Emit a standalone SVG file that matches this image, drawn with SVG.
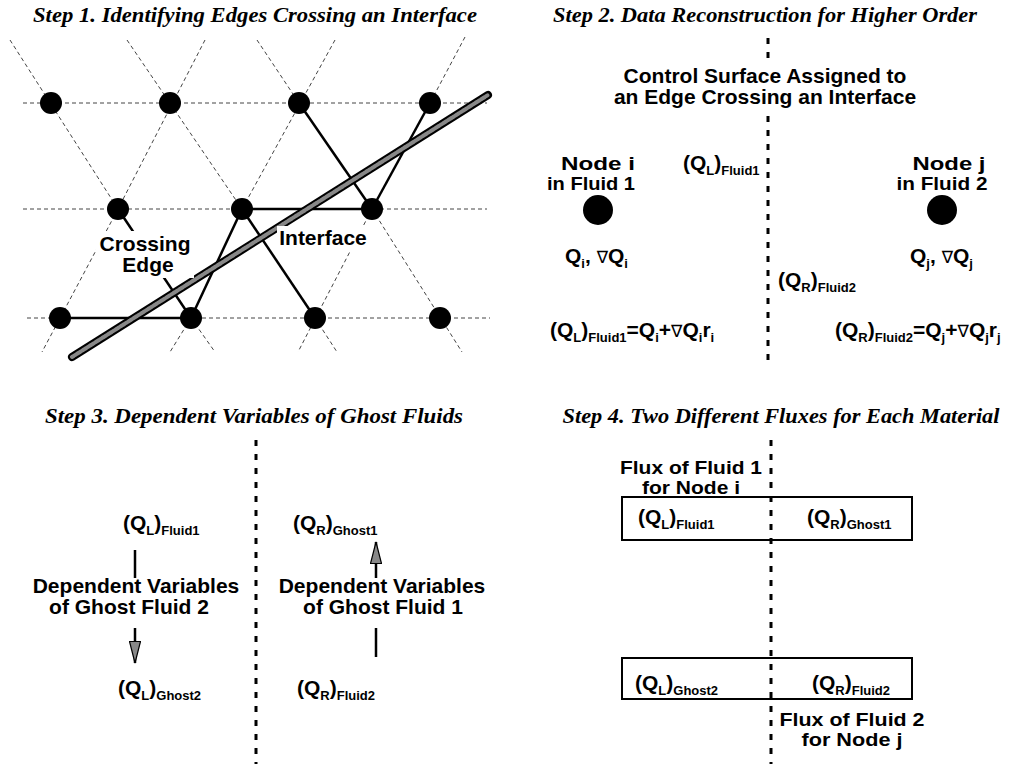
<svg xmlns="http://www.w3.org/2000/svg" width="1024" height="768" viewBox="0 0 1024 768">
<style>
.title{font-family:"Liberation Serif","Times New Roman",serif;font-weight:bold;font-style:italic;font-size:22px;text-anchor:middle;fill:#000}
.lbl{font-family:"Liberation Sans",Arial,sans-serif;font-weight:bold;font-size:21px;text-anchor:middle;fill:#000}
.sm{font-size:19px}
.q{font-family:"Liberation Sans",Arial,sans-serif;font-weight:bold;font-size:21px;fill:#000}
.sub{font-size:13px}
.nab{font-weight:normal;font-family:"DejaVu Sans",sans-serif;font-size:17px}
.grid{stroke:#444;stroke-width:1;stroke-dasharray:4 3;fill:none}
.edge{stroke:#000;stroke-width:2.5;fill:none}
.iface-o{stroke:#000;stroke-width:8;stroke-linecap:round}
.iface-i{stroke:#888;stroke-width:4;stroke-linecap:round;stroke-dasharray:2 1}
.sep{stroke:#000;stroke-width:3;stroke-dasharray:6 8;fill:none}
.node{fill:#000}
.box{fill:none;stroke:#000;stroke-width:2}
.stem{stroke:#000;stroke-width:2.5;fill:none}
.mask{fill:#fff}
</style>
<defs>
<marker id="ah" viewBox="0 0 23 12" refX="22" refY="6" markerWidth="23" markerHeight="12" orient="auto" markerUnits="userSpaceOnUse">
<path d="M0.5,0.5 L22,6 L0.5,11.5 Z" fill="#888" stroke="#000" stroke-width="1.2"/>
</marker>
</defs>
<rect width="1024" height="768" fill="#fff"/>

<!-- Titles -->
<text class="title" x="255" y="22" textLength="444" lengthAdjust="spacingAndGlyphs">Step 1. Identifying Edges Crossing an Interface</text>
<text class="title" x="765" y="22" textLength="424" lengthAdjust="spacingAndGlyphs">Step 2. Data Reconstruction for Higher Order</text>
<text class="title" x="254" y="423" textLength="418" lengthAdjust="spacingAndGlyphs">Step 3. Dependent Variables of Ghost Fluids</text>
<text class="title" x="781" y="423" textLength="437" lengthAdjust="spacingAndGlyphs">Step 4. Two Different Fluxes for Each Material</text>

<!-- Step 1 connectors -->
<g id="step1-connectors">
<line class="grid" x1="23" y1="103" x2="487" y2="103"/>
<line class="grid" x1="23" y1="209" x2="487" y2="209"/>
<line class="grid" x1="27" y1="318" x2="490" y2="318"/>
<line class="grid" x1="10" y1="40" x2="118" y2="209"/>
<line class="grid" x1="127" y1="40" x2="242" y2="209"/>
<line class="grid" x1="205" y1="40" x2="118" y2="209"/>
<line class="grid" x1="257" y1="40" x2="299" y2="103"/>
<line class="grid" x1="335" y1="40" x2="242" y2="209"/>
<line class="grid" x1="465" y1="37" x2="430" y2="103"/>
<line class="grid" x1="118" y1="209" x2="42" y2="352"/>
<line class="grid" x1="372" y1="209" x2="298" y2="352"/>
<line class="grid" x1="372" y1="209" x2="462" y2="352"/>
<line class="grid" x1="191" y1="318" x2="170" y2="352"/>
<line class="grid" x1="191" y1="318" x2="215" y2="352"/>
<line class="grid" x1="315" y1="318" x2="337" y2="352"/>
<line class="edge" x1="60" y1="318" x2="191" y2="318"/>
<line class="edge" x1="118" y1="209" x2="191" y2="318"/>
<line class="edge" x1="242" y1="209" x2="191" y2="318"/>
<line class="edge" x1="242" y1="209" x2="315" y2="318"/>
<line class="edge" x1="242" y1="209" x2="372" y2="209"/>
<line class="edge" x1="299" y1="103" x2="372" y2="209"/>
<line class="edge" x1="430" y1="103" x2="372" y2="209"/>
</g>
<g id="interface">
<line class="iface-o" x1="72" y1="357" x2="488" y2="95"/>
<line class="iface-i" x1="72" y1="357" x2="488" y2="95"/>
</g>
<g id="step1-nodes">
<circle class="node" cx="51" cy="103" r="11"/>
<circle class="node" cx="170" cy="103" r="11"/>
<circle class="node" cx="299" cy="103" r="11"/>
<circle class="node" cx="430" cy="103" r="11"/>
<circle class="node" cx="118" cy="209" r="11"/>
<circle class="node" cx="242" cy="209" r="11"/>
<circle class="node" cx="372" cy="209" r="11"/>
<circle class="node" cx="60" cy="318" r="11"/>
<circle class="node" cx="191" cy="318" r="11"/>
<circle class="node" cx="315" cy="318" r="11"/>
<circle class="node" cx="440" cy="318" r="11"/>
</g>
<g id="label-crossing-edge">
<rect class="mask" x="96" y="231" width="98" height="47"/>
<text class="lbl" x="145" y="251">Crossing</text>
<text class="lbl" x="148" y="272">Edge</text>
</g>
<g id="label-interface">
<rect class="mask" x="277" y="226" width="94" height="25"/>
<text class="lbl" x="323" y="245">Interface</text>
</g>

<!-- Step 2 -->
<g id="step2-separator">
<line class="sep" x1="768" y1="38" x2="768" y2="62"/>
<line class="sep" x1="768" y1="116" x2="768" y2="368"/>
</g>
<g id="step2-control-surface">
<text class="lbl" x="765" y="83">Control Surface Assigned to</text>
<text class="lbl" x="765" y="104">an Edge Crossing an Interface</text>
</g>
<g id="step2-node-i">
<text class="lbl sm" x="598" y="170" textLength="74" lengthAdjust="spacingAndGlyphs">Node i</text>
<text class="lbl sm" x="591" y="190" textLength="88" lengthAdjust="spacingAndGlyphs">in Fluid 1</text>
<circle class="node" cx="598" cy="210" r="15"/>
<text class="q" x="565" y="263">Q<tspan class="sub" dy="5">i</tspan><tspan dy="-5">, </tspan><tspan class="nab">∇</tspan>Q<tspan class="sub" dy="5">i</tspan></text>
</g>
<g id="step2-node-j">
<text class="lbl sm" x="949" y="170" textLength="73" lengthAdjust="spacingAndGlyphs">Node j</text>
<text class="lbl sm" x="942" y="190" textLength="91" lengthAdjust="spacingAndGlyphs">in Fluid 2</text>
<circle class="node" cx="942" cy="210" r="15"/>
<text class="q" x="910" y="263">Q<tspan class="sub" dy="5">j</tspan><tspan dy="-5">, </tspan><tspan class="nab">∇</tspan>Q<tspan class="sub" dy="5">j</tspan></text>
</g>
<g id="step2-values">
<text class="q" x="683" y="170">(Q<tspan class="sub" dy="5">L</tspan><tspan dy="-5">)</tspan><tspan class="sub" dy="5">Fluid1</tspan></text>
<text class="q" x="778" y="287">(Q<tspan class="sub" dy="5">R</tspan><tspan dy="-5">)</tspan><tspan class="sub" dy="5">Fluid2</tspan></text>
<text class="q" x="550" y="337">(Q<tspan class="sub" dy="5">L</tspan><tspan dy="-5">)</tspan><tspan class="sub" dy="5">Fluid1</tspan><tspan dy="-5">=Q</tspan><tspan class="sub" dy="5">i</tspan><tspan dy="-5">+</tspan><tspan class="nab">∇</tspan>Q<tspan class="sub" dy="5">i</tspan><tspan dy="-5">r</tspan><tspan class="sub" dy="5">i</tspan></text>
<text class="q" x="835" y="337">(Q<tspan class="sub" dy="5">R</tspan><tspan dy="-5">)</tspan><tspan class="sub" dy="5">Fluid2</tspan><tspan dy="-5">=Q</tspan><tspan class="sub" dy="5">j</tspan><tspan dy="-5">+</tspan><tspan class="nab">∇</tspan>Q<tspan class="sub" dy="5">j</tspan><tspan dy="-5">r</tspan><tspan class="sub" dy="5">j</tspan></text>
</g>

<!-- Step 3 -->
<g id="step3-separator">
<line class="sep" x1="256" y1="440" x2="256" y2="764"/>
</g>
<g id="step3-connectors">
<line class="stem" x1="135" y1="550" x2="135" y2="578"/>
<line class="stem" x1="135" y1="628" x2="135" y2="663" marker-end="url(#ah)"/>
<line class="stem" x1="376" y1="578" x2="376" y2="542" marker-end="url(#ah)"/>
<line class="stem" x1="376" y1="628" x2="376" y2="657"/>
</g>
<g id="step3-left">
<text class="q" x="123" y="530">(Q<tspan class="sub" dy="5">L</tspan><tspan dy="-5">)</tspan><tspan class="sub" dy="5">Fluid1</tspan></text>
<text class="lbl" x="136" y="593">Dependent Variables</text>
<text class="lbl" x="129" y="614">of Ghost Fluid 2</text>
<text class="q" x="118" y="695">(Q<tspan class="sub" dy="5">L</tspan><tspan dy="-5">)</tspan><tspan class="sub" dy="5">Ghost2</tspan></text>
</g>
<g id="step3-right">
<text class="q" x="293" y="530">(Q<tspan class="sub" dy="5">R</tspan><tspan dy="-5">)</tspan><tspan class="sub" dy="5">Ghost1</tspan></text>
<text class="lbl" x="382" y="593">Dependent Variables</text>
<text class="lbl" x="383" y="614">of Ghost Fluid 1</text>
<text class="q" x="297" y="695">(Q<tspan class="sub" dy="5">R</tspan><tspan dy="-5">)</tspan><tspan class="sub" dy="5">Fluid2</tspan></text>
</g>

<!-- Step 4 -->
<g id="step4-separator">
<line class="sep" x1="771" y1="440" x2="771" y2="764"/>
</g>
<g id="step4-flux1">
<text class="lbl sm" x="691" y="474" textLength="142" lengthAdjust="spacingAndGlyphs">Flux of Fluid 1</text>
<text class="lbl sm" x="691" y="494" textLength="98" lengthAdjust="spacingAndGlyphs">for Node i</text>
<rect class="box" x="622" y="497" width="290" height="43"/>
<text class="q" x="638" y="524">(Q<tspan class="sub" dy="5">L</tspan><tspan dy="-5">)</tspan><tspan class="sub" dy="5">Fluid1</tspan></text>
<text class="q" x="807" y="524">(Q<tspan class="sub" dy="5">R</tspan><tspan dy="-5">)</tspan><tspan class="sub" dy="5">Ghost1</tspan></text>
</g>
<g id="step4-flux2">
<rect class="box" x="622" y="658" width="290" height="41"/>
<text class="q" x="635" y="690">(Q<tspan class="sub" dy="5">L</tspan><tspan dy="-5">)</tspan><tspan class="sub" dy="5">Ghost2</tspan></text>
<text class="q" x="812" y="690">(Q<tspan class="sub" dy="5">R</tspan><tspan dy="-5">)</tspan><tspan class="sub" dy="5">Fluid2</tspan></text>
<text class="lbl sm" x="852" y="726" textLength="145" lengthAdjust="spacingAndGlyphs">Flux of Fluid 2</text>
<text class="lbl sm" x="852" y="746" textLength="101" lengthAdjust="spacingAndGlyphs">for Node j</text>
</g>
</svg>
